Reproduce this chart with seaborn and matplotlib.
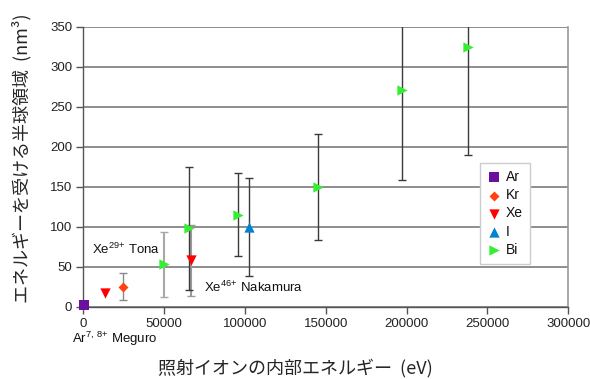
import matplotlib
matplotlib.use("Agg")
import matplotlib.pyplot as plt
import numpy as np
import pandas as pd
import seaborn as sns

# Internal energy of the projectile ion (eV) vs. hemispherical volume receiving energy (nm^3)
ar_energy = [500]
ar_volume = [2]
ar_err = [0]

kr_energy = [24500]
kr_volume = [25]
kr_err = [17]

xe_energy = [13500, 66500]
xe_volume = [17, 58]
xe_err = [0, 44]

i_energy = [102700]
i_volume = [100]
i_err = [61]

bi_energy = [50000, 65500, 95500, 145000, 197000, 238000]
bi_volume = [53, 98, 115, 150, 271, 325]
bi_err = [41, 77, 52, 66, 112, 135]

ions = ["Ar", "Kr", "Xe", "I", "Bi"]
x_ticks = [0, 50000, 100000, 150000, 200000, 250000, 300000]
y_ticks = [0, 50, 100, 150, 200, 250, 300, 350]

series = {
    "Ar": (ar_energy, ar_volume, ar_err),
    "Kr": (kr_energy, kr_volume, kr_err),
    "Xe": (xe_energy, xe_volume, xe_err),
    "I": (i_energy, i_volume, i_err),
    "Bi": (bi_energy, bi_volume, bi_err),
}

rows = []
for ion, (xs, ys, es) in series.items():
    for x, y, e in zip(xs, ys, es):
        rows.append({"energy": x, "volume": y, "err": e, "ion": ion})
df = pd.DataFrame(rows)

sns.set_style("ticks")
plt.rcParams["font.family"] = ["Liberation Sans", "Noto Sans CJK JP", "DejaVu Sans"]
plt.rcParams["mathtext.fontset"] = "custom"
plt.rcParams["mathtext.rm"] = "Liberation Sans"

palette = {"Ar": "#6a0f9e", "Kr": "#ff420e", "Xe": "#ff0000", "I": "#0084d1", "Bi": "#33ee33"}
markers = {"Ar": "s", "Kr": "D", "Xe": "v", "I": "^", "Bi": ">"}
sizes = {"Ar": 48, "Kr": 26, "Xe": 55, "I": 55, "Bi": 55}
err_colors = {"Ar": "#999999", "Kr": "#8a8a8a", "Xe": "#9a9a9a", "I": "#3a3a3a", "Bi": "#3a3a3a"}

fig = plt.figure(figsize=(5.9, 3.79), dpi=100)
ax = fig.add_axes([0.1412, 0.1905, 0.8220, 0.7391])

# error bars (drawn first so markers sit on top)
for ion in ions:
    sub = df[df["ion"] == ion]
    for _, r in sub.iterrows():
        if r["err"] <= 0:
            continue
        col = err_colors[ion]
        lw = 1.0
        if ion == "Bi" and r["energy"] < 60000:
            col, lw = "#a8a8a8", 1.5
        if ion == "Xe":
            lw = 1.5
        ax.errorbar(r["energy"], r["volume"], yerr=r["err"], fmt="none",
                    ecolor=col, elinewidth=lw, capsize=2.6, capthick=1.0, zorder=3)

for ion in ions:
    sub = df[df["ion"] == ion]
    sns.scatterplot(data=sub, x="energy", y="volume", color=palette[ion],
                    marker=markers[ion], s=sizes[ion], linewidth=0, label=ion,
                    ax=ax, zorder=4, clip_on=False)

ax.set_xlim(0, 300000)
ax.set_ylim(0, 350)
ax.set_xticks(x_ticks)
ax.set_xticklabels([str(t) for t in x_ticks])
ax.set_yticks(y_ticks)
ax.set_yticklabels([str(t) for t in y_ticks])
ax.tick_params(axis="both", labelsize=9.5, length=5, width=1,
               direction="out", pad=3, colors="#555555", labelcolor="#222222")

ax.yaxis.grid(True, color="#7a7a7a", linewidth=1.2)
ax.xaxis.grid(False)
ax.set_axisbelow(True)

for side in ["left", "bottom"]:
    ax.spines[side].set_color("#555555")
    ax.spines[side].set_linewidth(1.0)
ax.spines["right"].set_visible(True)
ax.spines["right"].set_color("#9a9a9a")
ax.spines["right"].set_linewidth(1.2)
ax.spines["top"].set_visible(False)

ax.set_xlabel("照射イオンの内部エネルギー  (eV)", fontsize=13,
              family=["Noto Sans CJK JP", "DejaVu Sans"])
ax.set_ylabel("エネルギーを受ける半球領域  (nm³)", fontsize=13,
              family=["Noto Sans CJK JP", "DejaVu Sans"])
ax.xaxis.set_label_coords(0.437, -0.218)
ax.yaxis.set_label_coords(-0.126, 0.531)
ax.xaxis.label.set_va("center")
ax.yaxis.label.set_va("center")

ax.text(5200, 66, r"Xe$^{\mathregular{29{+}}}$ Tona", fontsize=9.5, color="#111111",
        ha="left", va="baseline")
ax.text(74800, 18, r"Xe$^{\mathregular{46{+}}}$ Nakamura", fontsize=9.5, color="#111111",
        ha="left", va="baseline")
ax.text(-7200, -45, r"Ar$^{\mathregular{7,\,8{+}}}$ Meguro", fontsize=9.5, color="#111111",
        ha="left", va="baseline", clip_on=False)

handles, labels = ax.get_legend_handles_labels()
leg = ax.legend(handles, labels, loc="upper left", bbox_to_anchor=(0.818, 0.513),
                fontsize=10, frameon=True, fancybox=False, framealpha=1,
                edgecolor="#cccccc", handlelength=1.0, handletextpad=0.35,
                labelspacing=0.3, borderpad=0.5, borderaxespad=0)
leg.get_frame().set_linewidth(1.0)
for t in leg.get_texts():
    t.set_color("#111111")

fig.savefig("out.png", dpi=100)
